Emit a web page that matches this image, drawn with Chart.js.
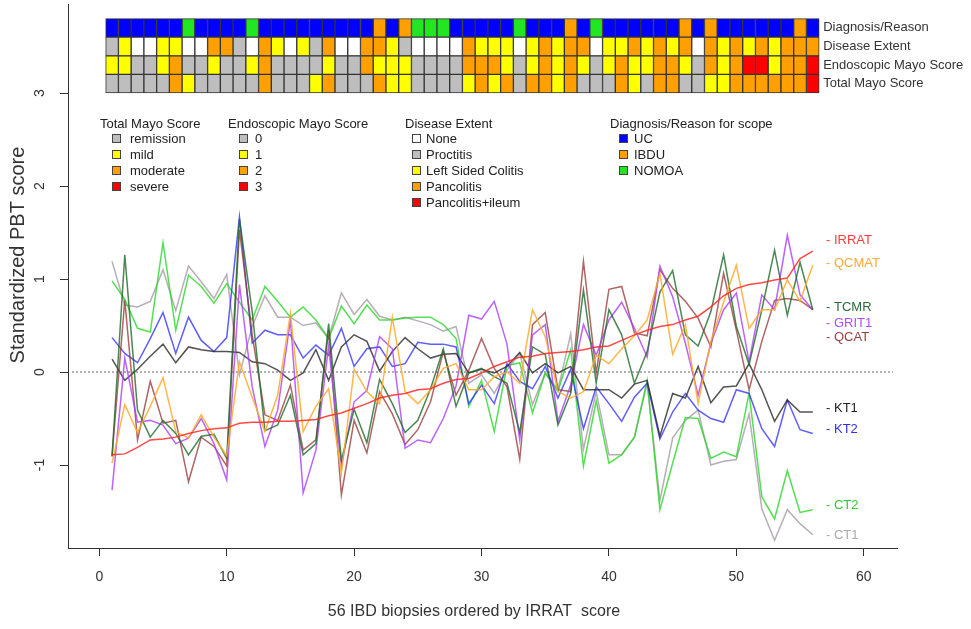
<!DOCTYPE html>
<html>
<head>
<meta charset="utf-8">
<script src="https://cdn.jsdelivr.net/npm/chart.js@4.4.1/dist/chart.umd.min.js"></script>
<style>
  html, body { margin: 0; padding: 0; background: #fff; }
  #wrap { width: 971px; height: 629px; }
</style>
</head>
<body>
<div id="wrap"><canvas id="chart" width="971" height="629"></canvas></div>
<script>
const FONT = "'Liberation Sans', Arial, sans-serif";

// biopsy index 1..56 (ordered by IRRAT score)
const biopsies = Array.from({ length: 56 }, (_, i) => i + 1);
const xTicks = [0, 10, 20, 30, 40, 50, 60];
const yTicks = [-1, 0, 1, 2, 3];

// standardized PBT scores
const irrat = [-0.89, -0.88, -0.81, -0.73, -0.72, -0.70, -0.66, -0.63, -0.61, -0.60,
  -0.55, -0.54, -0.54, -0.53, -0.53, -0.52, -0.51, -0.47, -0.44, -0.39,
  -0.34, -0.28, -0.25, -0.23, -0.19, -0.18, -0.12, -0.08, -0.07, -0.01,
  0.06, 0.11, 0.16, 0.17, 0.20, 0.21, 0.22, 0.24, 0.27, 0.28,
  0.34, 0.40, 0.45, 0.49, 0.51, 0.56, 0.60, 0.70, 0.82, 0.90,
  0.94, 0.96, 0.99, 1.01, 1.22, 1.30];
const qcmat = [-0.98, -0.35, -0.65, -0.37, -0.06, -0.64, -0.71, -0.46, -0.70, -0.90,
  0.11, -0.27, -0.64, -0.25, 0.63, -0.64, -0.37, -0.18, -1.09, 0.03,
  -0.21, -0.34, 0.59, -0.21, -0.34, -0.19, 0.04, 0.09, -0.19, -0.19,
  -0.05, 0.00, -0.12, 0.67, 0.38, -0.21, -0.28, -0.21, 0.18, 0.09,
  0.25, 0.39, 0.56, 1.06, 0.19, 0.51, -0.34, 0.33, 0.75, 1.15,
  0.47, 0.67, 0.67, 0.99, 0.76, 1.15];
const tcmr = [-0.91, 1.26, -0.41, -0.70, -0.52, -0.66, -0.89, -0.69, -0.67, -0.93,
  1.65, 0.65, -0.63, -0.57, -0.25, -0.89, -0.77, 0.52, -0.95, -0.40,
  -0.76, -0.08, -0.34, -0.65, -0.52, -0.18, 0.25, -0.37, -0.01, 0.04,
  -0.05, -0.12, -0.65, 0.27, 0.19, -0.57, -0.23, 0.88, -0.12, 0.67,
  0.40, -0.12, 0.22, 0.86, 1.09, 0.40, 0.28, 0.65, 1.26, 0.49,
  0.08, 0.67, 1.31, 0.61, 1.18, 0.67];
const grit1 = [-1.27, 0.15, -0.54, -0.52, -0.57, -0.77, -0.71, -0.50, -0.77, -1.16,
  0.94, -0.16, -0.80, -0.41, 0.56, -1.30, -0.84, 0.28, -1.01, -0.32,
  -0.20, 0.38, 0.25, -0.82, -0.73, -0.76, -0.50, -0.15, 0.61, 0.57,
  0.76, 0.30, -0.73, 0.40, 0.51, -0.53, -0.14, 0.51, 0.18, 0.56,
  0.75, 0.47, 0.16, 1.14, 0.81, 0.31, -0.25, 0.31, 0.67, 0.85,
  0.11, 0.83, 0.67, 1.47, 0.83, 0.67];
const qcat = [-0.90, 0.77, -0.73, -0.10, -0.55, -0.52, -1.18, -0.70, -0.80, -1.01,
  1.53, 0.40, -0.46, -0.52, -0.14, -0.84, -0.73, 0.45, -1.32, -0.52,
  -0.87, -0.21, -0.45, -0.78, -0.62, -0.32, 0.22, -0.25, 0.02, 0.36,
  0.04, -0.16, -0.94, 0.51, 0.64, -0.19, -0.21, 1.19, -0.01, 0.89,
  0.92, 0.42, 0.39, 1.10, 0.90, 0.76, 0.58, 0.27, 1.06, 0.45,
  -0.19, 0.33, 0.77, 0.79, 0.77, 0.67];
const kt1 = [0.14, -0.09, 0.03, 0.17, 0.30, 0.10, 0.27, 0.24, 0.22, 0.22,
  0.21, 0.11, 0.09, 0.02, -0.09, -0.01, 0.24, -0.09, 0.27, 0.40,
  0.33, 0.01, 0.22, 0.37, 0.25, 0.15, 0.19, 0.20, -0.01, 0.03,
  -0.01, 0.06, 0.21, -0.01, 0.09, -0.01, 0.06, -0.19, -0.19, -0.19,
  -0.28, -0.13, -0.09, -0.69, -0.23, -0.28, 0.06, -0.33, -0.16, -0.15,
  0.09, -0.19, -0.53, -0.30, -0.43, -0.43];
const kt2 = [0.37, 0.20, 0.10, 0.36, 0.64, 0.20, 0.59, 0.34, 0.22, 0.37,
  1.67, 0.31, 0.45, 0.40, 0.40, 0.15, 0.29, 0.18, 0.47, 0.06,
  0.25, 0.27, 0.06, 0.09, 0.32, 0.30, 0.30, 0.27, -0.34, -0.14,
  -0.34, 0.09, -0.10, -0.18, 0.06, -0.28, 0.03, -0.61, -0.16, -0.34,
  -0.53, -0.27, -0.12, -0.72, -0.43, -0.23, -0.41, -0.50, -0.54, -0.19,
  -0.23, -0.61, -0.80, -0.30, -0.62, -0.66];
const ct2 = [0.98, 0.78, 0.47, 0.43, 1.39, 0.45, 1.04, 0.92, 0.74, 0.95,
  0.75, 0.56, 0.92, 0.76, 0.59, 0.70, 0.56, 0.36, 0.71, 0.52,
  0.72, 0.56, 0.56, 0.58, 0.59, 0.59, 0.51, 0.36, -0.37, -0.09,
  -0.64, 0.07, 0.10, -0.44, -0.01, -0.21, 0.24, -1.01, -0.31, -0.98,
  -0.89, -0.70, -0.09, -1.48, -0.98, -0.49, -0.50, -0.93, -0.86, -0.91,
  -0.23, -1.34, -1.58, -1.06, -1.51, -1.48];
const ct1 = [1.19, 0.72, 0.70, 0.76, 1.10, 0.66, 1.14, 0.97, 0.79, 1.05,
  -0.03, 0.49, 0.82, 0.59, 0.59, 0.50, 0.53, 0.36, 0.85, 0.62,
  0.78, 0.60, 0.56, 0.59, 0.55, 0.51, 0.44, 0.49, -0.12, -0.03,
  -0.23, 0.02, 0.20, -0.35, -0.01, -0.19, 0.41, -0.83, -0.21, -0.89,
  -0.89, -0.70, -0.12, -1.38, -0.71, -0.52, -0.41, -1.00, -0.96, -0.94,
  -0.45, -1.47, -1.81, -1.48, -1.63, -1.75];

const seriesNames = ["IRRAT", "QCMAT", "TCMR", "GRIT1", "QCAT", "KT1", "KT2", "CT2", "CT1"];
const seriesValues = [irrat, qcmat, tcmr, grit1, qcat, kt1, kt2, ct2, ct1];
const seriesColors = ["rgba(255,40,40,0.85)", "rgba(255,170,40,0.85)", "rgba(30,105,40,0.8)",
  "rgba(170,60,255,0.8)", "rgba(150,50,50,0.75)", "rgba(40,40,40,0.8)",
  "rgba(40,40,255,0.75)", "rgba(40,215,40,0.8)", "rgba(170,160,170,0.85)"];
const labelColors = ["#ff3b3b", "#ffa833", "#2d6b3a", "#b04cff", "#9a4040", "#222222", "#3030ee", "#2ecc2e", "#aaaaaa"];
const labelY = [1.41, 1.17, 0.70, 0.52, 0.37, -0.39, -0.62, -1.43, -1.76];

// annotation track levels per biopsy
const diagLevels = ["UC", "IBDU", "NOMOA"];
const diagColors = ["#0000ff", "#ffa000", "#22e622"];
const diagnosis = [0, 0, 0, 0, 0, 0, 2, 0, 0, 0, 0, 2, 0, 0, 0, 0, 0, 0, 0, 0,
  0, 1, 0, 1, 2, 2, 2, 0, 0, 0, 0, 0, 2, 0, 0, 0, 1, 0, 2, 0,
  0, 0, 0, 0, 0, 1, 0, 1, 0, 0, 0, 0, 0, 0, 1, 0];

const extentLevels = ["None", "Proctitis", "Left Sided Colitis", "Pancolitis", "Pancolitis+ileum"];
const extentColors = ["#ffffff", "#bebebe", "#ffff00", "#ffa000", "#ff0000"];
const extent = [1, 2, 0, 0, 2, 2, 0, 0, 3, 3, 1, 0, 3, 2, 0, 2, 1, 3, 0, 0,
  3, 3, 2, 1, 0, 0, 0, 0, 3, 2, 2, 2, 0, 2, 3, 2, 3, 3, 0, 2,
  2, 3, 2, 3, 2, 3, 0, 3, 2, 3, 2, 3, 2, 3, 3, 3];

const endoLevels = ["0", "1", "2", "3"];
const endoColors = ["#bebebe", "#ffff00", "#ffa000", "#ff0000"];
const endoMayo = [1, 1, 0, 0, 1, 2, 0, 0, 1, 0, 0, 1, 2, 0, 0, 0, 0, 1, 0, 0,
  2, 1, 1, 1, 0, 0, 0, 0, 2, 2, 2, 1, 0, 1, 2, 1, 2, 1, 0, 1,
  2, 1, 1, 2, 2, 1, 0, 2, 1, 2, 3, 3, 1, 2, 2, 3];

const totalLevels = ["remission", "mild", "moderate", "severe"];
const totalColors = ["#bebebe", "#ffff00", "#ffa000", "#ff0000"];
const totalMayo = [0, 0, 0, 0, 0, 2, 1, 0, 0, 0, 0, 0, 2, 0, 0, 0, 1, 2, 0, 0,
  0, 2, 1, 1, 0, 0, 0, 0, 1, 2, 1, 2, 0, 2, 2, 1, 2, 0, 0, 0,
  2, 1, 0, 2, 2, 0, 0, 1, 1, 2, 2, 2, 2, 2, 2, 3];

// tracks from bottom to top, each 0.2 units tall starting at y = 3
const tracks = [
  { name: "Total Mayo Score", values: totalMayo, colors: totalColors },
  { name: "Endoscopic Mayo Score", values: endoMayo, colors: endoColors },
  { name: "Disease Extent", values: extent, colors: extentColors },
  { name: "Diagnosis/Reason", values: diagnosis, colors: diagColors },
];
const trackBase = 3;
const trackHeight = 0.2;

const legendGroups = [
  { title: "Total Mayo Score", levels: totalLevels, colors: totalColors, tx: 100, bx: 112, lx: 130 },
  { title: "Endoscopic Mayo Score", levels: endoLevels, colors: endoColors, tx: 228, bx: 239, lx: 255 },
  { title: "Disease Extent", levels: extentLevels, colors: extentColors, tx: 405, bx: 412, lx: 426 },
  { title: "Diagnosis/Reason for scope", levels: diagLevels, colors: diagColors, tx: 610, bx: 619, lx: 634 },
];

const trackDatasets = tracks.map((t, k) => ({
  type: "bar",
  label: t.name,
  data: biopsies.map((b) => ({
    x: b,
    y: [trackBase + k * trackHeight, trackBase + (k + 1) * trackHeight],
  })),
  backgroundColor: t.values.map((v) => t.colors[v]),
  borderColor: "#333333",
  borderWidth: 1,
  borderSkipped: false,
  barPercentage: 1,
  categoryPercentage: 1,
  grouped: false,
  order: 20,
}));

const lineDatasets = seriesNames.map((name, k) => ({
  type: "line",
  label: name,
  data: biopsies.map((b, i) => ({ x: b, y: seriesValues[k][i] })),
  borderColor: seriesColors[k],
  borderWidth: 1.5,
  pointRadius: 0,
  tension: 0,
  fill: false,
  order: k,
}));

const annotations = {
  id: "annotations",
  beforeDatasetsDraw(chart) {
    const { ctx, chartArea, scales } = chart;
    const y0 = scales.y.getPixelForValue(0);
    ctx.save();
    ctx.strokeStyle = "#666";
    ctx.lineWidth = 1;
    ctx.setLineDash([2, 2]);
    ctx.beginPath();
    ctx.moveTo(chartArea.left + 4, y0);
    ctx.lineTo(chartArea.right - 4, y0);
    ctx.stroke();
    ctx.restore();
  },
  afterDraw(chart) {
    const { ctx, scales } = chart;
    const xs = scales.x;
    const ys = scales.y;
    ctx.save();
    ctx.font = "13px " + FONT;
    ctx.textBaseline = "middle";

    // track names right of the heatmap
    ctx.fillStyle = "#333";
    ctx.textAlign = "left";
    const tx = xs.getPixelForValue(biopsies.length + 0.5) + 4;
    tracks.forEach((t, k) => {
      ctx.fillText(t.name, tx, ys.getPixelForValue(trackBase + (k + 0.5) * trackHeight));
    });

    // series labels at the right end
    const sx = xs.getPixelForValue(57.04);
    seriesNames.forEach((name, k) => {
      ctx.fillStyle = labelColors[k];
      ctx.fillText("- " + name, sx, ys.getPixelForValue(labelY[k]));
    });

    // legends
    ctx.font = "13px " + FONT;
    legendGroups.forEach((g) => {
      ctx.fillStyle = "#222";
      ctx.fillText(g.title, g.tx, 124);
      g.levels.forEach((lv, j) => {
        const yy = 139 + j * 16;
        ctx.fillStyle = g.colors[j];
        ctx.fillRect(g.bx, yy - 5, 9, 9);
        ctx.strokeStyle = "#444";
        ctx.lineWidth = 1;
        ctx.strokeRect(g.bx + 0.5, yy - 4.5, 8, 8);
        ctx.fillStyle = "#222";
        ctx.fillText(lv, g.lx, yy);
      });
    });

    // axis titles
    ctx.fillStyle = "#333";
    ctx.font = "16px " + FONT;
    ctx.textAlign = "center";
    ctx.fillText("56 IBD biopsies ordered by IRRAT  score", 474, 612);
    ctx.font = "20px " + FONT;
    ctx.translate(18, 255);
    ctx.rotate(-Math.PI / 2);
    ctx.fillText("Standardized PBT score", 0, 0);
    ctx.restore();
  },
};

new Chart(document.getElementById("chart"), {
  type: "line",
  data: { datasets: [...lineDatasets, ...trackDatasets] },
  options: {
    responsive: false,
    animation: false,
    events: [],
    layout: { padding: { top: 4, right: 74, left: 0, bottom: 0 } },
    plugins: { legend: { display: false }, tooltip: { enabled: false } },
    scales: {
      x: {
        type: "linear",
        min: -2.457,
        max: 62.61,
        offset: false,
        afterBuildTicks: (scale) => { scale.ticks = xTicks.map((v) => ({ value: v })); },
        afterFit: (scale) => { scale.height = 81; scale.paddingLeft = 0; scale.paddingRight = 0; },
        grid: { offset: false, drawOnChartArea: false, drawTicks: true, tickLength: 8, color: "#333" },
        border: { display: true, color: "#333", width: 1 },
        ticks: { color: "#333", font: { size: 14, family: FONT }, padding: 13, maxRotation: 0 },
      },
      y: {
        type: "linear",
        min: -1.892,
        max: 3.957,
        afterBuildTicks: (scale) => { scale.ticks = yTicks.map((v) => ({ value: v })); },
        afterFit: (scale) => { scale.width = 68; scale.paddingTop = 0; scale.paddingBottom = 0; },
        grid: { offset: false, drawOnChartArea: false, drawTicks: true, tickLength: 8, color: "#333" },
        border: { display: true, color: "#333", width: 1 },
        ticks: { color: "#333", font: { size: 14, family: FONT }, padding: 14, minRotation: 90, maxRotation: 90, crossAlign: "center" },
      },
    },
  },
  plugins: [annotations],
});
</script>
</body>
</html>
